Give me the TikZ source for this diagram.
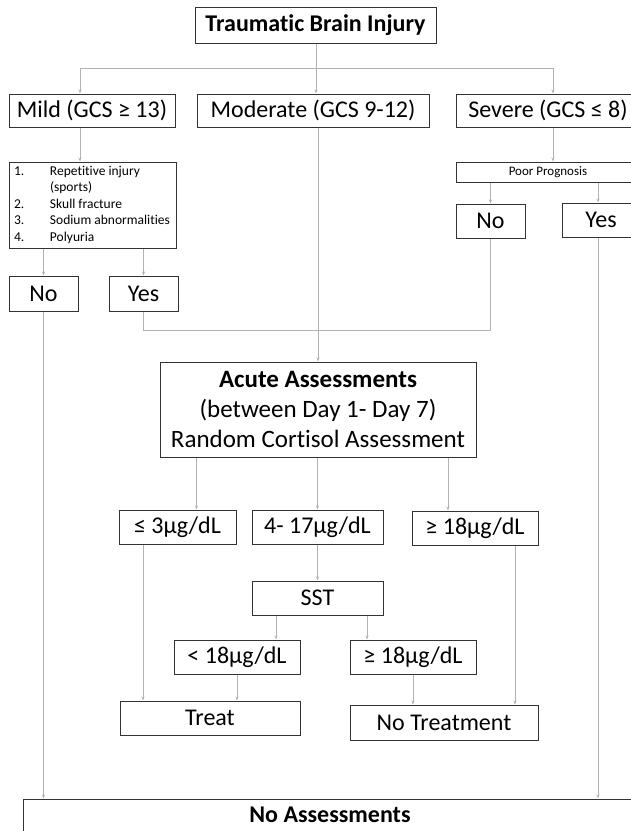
\documentclass[tikz,border=0pt]{standalone}
\usepackage{fontspec}
\setmainfont{Carlito}[Ligatures=NoCommon]
\usetikzlibrary{arrows.meta}

\tikzset{
  box/.style={draw=black!80, line width=1pt, inner sep=0pt, align=center,
    font=\fontsize{24}{28}\selectfont},
  link/.style={draw=black!30, line width=0.8pt},
  arrow/.style={link, -{Stealth[length=4pt,width=3pt]}}
}

\begin{document}
\begin{tikzpicture}[x=1pt,y=-1pt]
    \useasboundingbox (0,0) rectangle (631,831);

    % top levels
    \node[box, minimum width=241, minimum height=36, font=\fontsize{24}{28}\selectfont\bfseries] (tbi) at (315.5,25) {Traumatic Brain Injury};
    \node[box, minimum width=166, minimum height=33] (mild) at (92,110.5) {Mild (GCS ≥ 13)};
    \node[box, minimum width=232, minimum height=33] (moderate) at (313,110.5) {Moderate (GCS 9-12)};
    \node[box, minimum width=184, minimum height=33] (severe) at (548,110.5) {Severe (GCS ≤ 8)};

    % mild branch
    \node[box, minimum width=167, minimum height=86, font=\fontsize{13.5}{16.5}\selectfont] (crit) at (92.5,205)
      {\begin{tabular}{@{}p{36pt}@{}p{121pt}@{}}
       1. & Repetitive injury\\
          & (sports)\\
       2. & Skull fracture\\
       3. & Sodium abnormalities\\
       4. & Polyuria
       \end{tabular}};
    \node[box, minimum width=69, minimum height=35] (mildno) at (43.5,293.5) {No};
    \node[box, minimum width=69, minimum height=35] (mildyes) at (143.5,293.5) {Yes};

    % severe branch
    \node[box, minimum width=184, minimum height=20, font=\fontsize{13}{15}\selectfont] (prog) at (548,172) {Poor Prognosis};
    \node[box, minimum width=69, minimum height=34] (sevno) at (490.5,221) {No};
    \node[box, minimum width=78, minimum height=34] (sevyes) at (601,220) {Yes};

    % assessments
    \node[box, minimum width=316, minimum height=95, font=\fontsize{25}{30}\selectfont] (acute) at (318,409.5)
      {\textbf{Acute Assessments}\\(between Day 1- Day 7)\\Random Cortisol Assessment};
    \node[box, minimum width=117, minimum height=34] (low) at (177.5,527) {≤ 3µg/dL};
    \node[box, minimum width=131, minimum height=34] (mid) at (317.5,527) {4- 17µg/dL};
    \node[box, minimum width=126, minimum height=34] (high) at (475,528) {≥ 18µg/dL};
    \node[box, minimum width=131, minimum height=34] (sst) at (317.5,598) {SST};
    \node[box, minimum width=126, minimum height=34] (sstlow) at (237,657) {< 18µg/dL};
    \node[box, minimum width=126, minimum height=34] (ssthigh) at (413,657) {≥ 18µg/dL};
    \node[box, minimum width=180, minimum height=34] (treat) at (210,718) {Treat};
    \node[box, minimum width=188, minimum height=35] (notreat) at (444,722.5) {No Treatment};
    \node[box, minimum width=614, minimum height=32, font=\fontsize{24}{28}\selectfont\bfseries] (noassess) at (330,815) {No Assessments};

    % connectors
    \coordinate (fork) at (316,68);
    \coordinate (merge) at (318,330);
    \draw[link] (tbi.south -| fork) -- (fork);
    \draw[arrow] (fork) -| ([xshift=-12pt]mild.north);
    \draw[arrow] (fork) -- (fork |- moderate.north);
    \draw[arrow] (fork) -| ([xshift=5pt]severe.north);

    \draw[arrow] ([xshift=-12pt]mild.south) -- ([xshift=-12pt]mild.south |- crit.north);
    \draw[arrow] (crit.south -| mildno) -- (mildno.north);
    \draw[arrow] (crit.south -| mildyes) -- (mildyes.north);

    \draw[arrow] ([xshift=5pt]severe.south) -- ([xshift=5pt]severe.south |- prog.north);
    \draw[arrow] (prog.south -| sevno) -- (sevno.north);
    \draw[arrow] ([xshift=-3pt]prog.south -| sevyes) -- ([xshift=-3pt]sevyes.north);

    \draw[link] (mildyes.south) |- (merge);
    \draw[link] (sevno.south) |- (merge);
    \draw[arrow] (moderate.south -| acute.north) -- (acute.north);

    \draw[arrow] ([xshift=19pt]low.north |- acute.south) -- ([xshift=19pt]low.north);
    \draw[arrow] (acute.south -| mid) -- (mid.north);
    \draw[arrow] ([xshift=-27pt]high.north |- acute.south) -- ([xshift=-27pt]high.north);
    \draw[arrow] (mid) -- (sst);
    \draw[arrow] ([xshift=39pt]sstlow.north |- sst.south) -- ([xshift=39pt]sstlow.north);
    \draw[arrow] ([xshift=-46pt]ssthigh.north |- sst.south) -- ([xshift=-46pt]ssthigh.north);

    \draw[arrow] ([xshift=-34.5pt]low.south) -- ([xshift=-34.5pt]low.south |- treat.north);
    \draw[arrow] (sstlow.south) -- (sstlow.south |- treat.north);
    \draw[arrow] (ssthigh.south) -- (ssthigh.south |- notreat.north);
    \draw[arrow] ([xshift=40pt]high.south) -- ([xshift=40pt]high.south |- notreat.north);

    \draw[arrow] (mildno.south) -- (mildno.south |- noassess.north);
    \draw[arrow] ([xshift=-3pt]sevyes.south) -- ([xshift=-3pt]sevyes.south |- noassess.north);
\end{tikzpicture}
\end{document}
